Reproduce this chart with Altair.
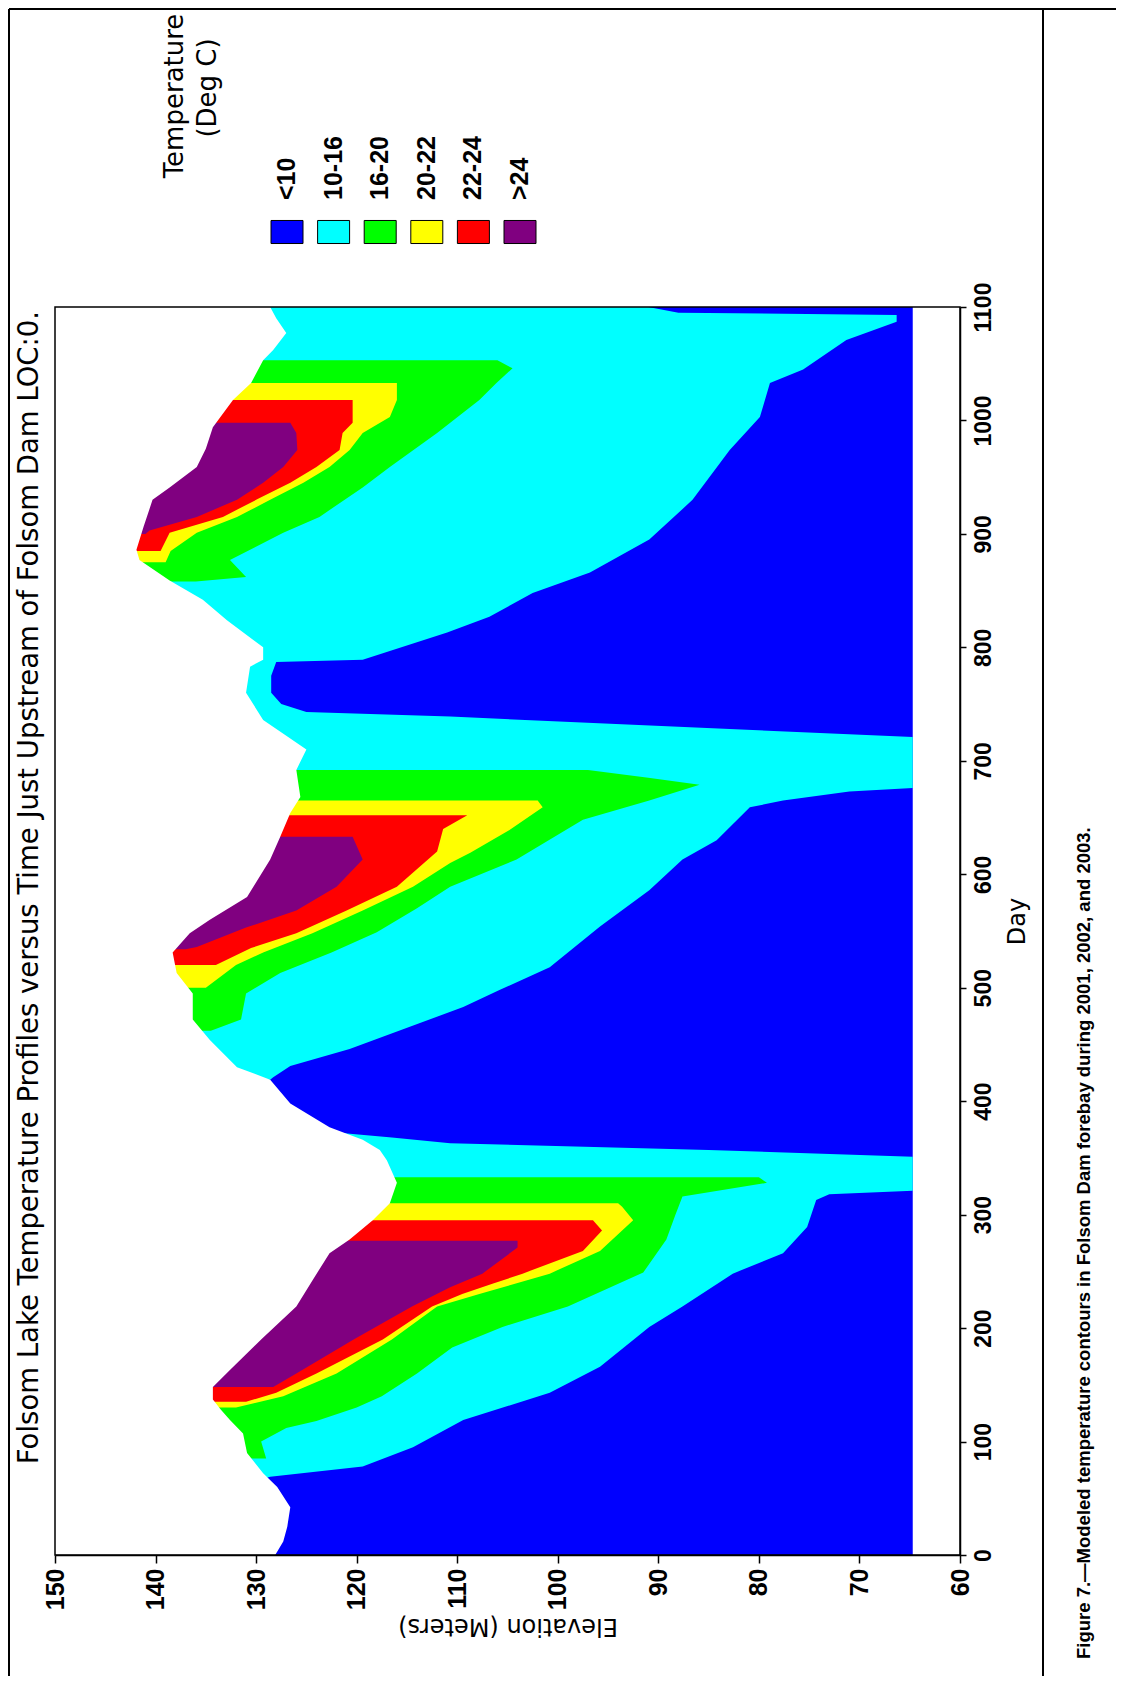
import altair as alt
import pandas as pd

BOTTOM = 64.7   # reservoir bottom elevation (m)
TOP = 150.0     # top of the elevation axis

# ---- water surface elevation (m) by day ----
surf_days = [0, 12, 25, 42, 60, 72, 90, 107, 119, 128, 137, 148, 163, 190, 219, 242, 266, 278, 295, 310,
             328, 348, 357, 366, 377, 398, 419, 430, 454, 472, 495, 513, 531, 548, 560, 580, 613, 633, 654, 668,
             692, 710, 722, 736, 760, 783, 789, 800, 824, 842, 859, 877, 886, 906, 930, 941, 959, 975, 994, 1018,
             1033, 1053, 1062, 1077, 1090, 1100]
surf_elev = [128.1, 127.3, 126.9, 126.6, 127.9, 129.3, 130.9, 131.3, 132.6, 133.5, 134.3, 134.3, 132.6, 129.5, 126.0, 124.4, 122.7, 120.7, 118.4, 116.7,
             116.0, 117.0, 117.7, 119.4, 122.7, 126.6, 128.6, 131.9, 134.6, 136.3, 136.3, 137.9, 138.3, 136.6, 134.6, 130.9, 128.6, 127.6, 126.6, 125.6,
             126.0, 125.0, 127.0, 129.3, 131.0, 130.6, 129.3, 129.3, 132.9, 135.3, 138.6, 141.6, 141.9, 141.2, 140.3, 138.6, 135.9, 135.0, 134.3, 132.3,
             130.5, 129.3, 128.3, 127.0, 128.0, 128.6]

# ---- lower edge of the 10-16 C water (top of the <10 C water) ----
cyan1_days = [67, 69, 78, 95, 119, 143, 166, 201, 219, 248, 266, 289, 313, 318, 321, 351, 357, 363, 368, 372]
cyan1_elev = [129.3, 128.6, 119.4, 114.4, 109.4, 100.8, 95.8, 90.9, 87.6, 82.6, 77.6, 75.2, 74.3, 73.0, 64.7, 64.7, 85.0, 110.7, 116.5, 121.5]
cyan2_days = [419, 421, 431, 446, 483, 498, 518, 554, 586, 613, 630, 659, 665, 673, 676, 721, 730, 739, 743, 750,
              760, 775, 787, 789, 813, 827, 848, 866, 895, 930, 974, 1003, 1033, 1045, 1071, 1087, 1093, 1095, 1100]
cyan2_elev = [128.6, 128.3, 126.6, 120.7, 109.4, 105.8, 100.8, 95.8, 90.9, 87.6, 84.2, 80.9, 77.6, 71.0, 64.7, 64.7, 88.0, 110.7, 125.0, 127.5,
              128.5, 128.5, 128.0, 119.4, 111.0, 106.8, 102.5, 96.8, 90.9, 86.6, 82.9, 79.9, 78.9, 75.6, 71.3, 66.3, 66.3, 88.0, 91.0]

# ---- lower edge of the 16-20 C water ----
green1_days = [85, 100, 112, 118, 130, 140, 160, 183, 201, 219, 249, 278, 300, 316, 328, 333]
green1_elev = [129.0, 129.5, 127.0, 124.0, 120.0, 117.5, 114.0, 110.5, 105.5, 99.0, 91.5, 89.2, 88.3, 87.6, 79.2, 80.0]
green2_days = [462, 472, 495, 513, 531, 549, 570, 589, 613, 648, 665, 679, 685, 692]
green2_elev = [134.5, 131.5, 131.0, 127.6, 122.5, 118.0, 114.0, 110.7, 104.1, 97.5, 90.9, 85.9, 91.0, 97.0]
green3_days = [858, 862, 877, 901, 915, 941, 959, 989, 1018, 1033, 1046, 1053]
green3_elev = [136.0, 131.0, 132.6, 127.3, 123.7, 119.4, 116.7, 112.0, 107.8, 106.1, 104.5, 106.0]

# ---- lower edge of the 20-22 C water ----
yellow1_days = [130, 140, 160, 190, 219, 230, 248, 268, 295, 307, 310]
yellow1_elev = [132.0, 127.3, 122.0, 116.5, 112.0, 107.8, 100.8, 95.8, 92.5, 93.6, 94.0]
yellow2_days = [500, 520, 531, 548, 568, 589, 610, 619, 639, 659, 665]
yellow2_elev = [135.0, 132.0, 129.3, 124.4, 119.4, 114.4, 110.7, 108.7, 104.8, 101.5, 102.0]
yellow3_days = [875, 885, 901, 915, 930, 945, 959, 974, 989, 1003, 1018, 1033]
yellow3_elev = [139.0, 138.5, 135.9, 131.9, 128.6, 125.3, 122.7, 120.7, 119.4, 116.7, 116.0, 116.0]

# ---- lower edge of the 22-24 C water ----
red1_days = [135, 143, 160, 190, 219, 230, 239, 248, 268, 286, 295]
red1_elev = [131.0, 128.0, 124.0, 117.4, 112.5, 109.5, 106.5, 103.5, 97.5, 95.6, 96.5]
red2_days = [520, 535, 548, 568, 589, 620, 640, 652]
red2_elev = [134.0, 130.5, 126.0, 121.0, 116.0, 112.0, 111.4, 109.0]
red3_days = [885, 901, 915, 930, 945, 959, 974, 989, 998, 1018]
red3_elev = [139.5, 138.6, 133.3, 130.0, 126.6, 124.0, 121.7, 121.4, 120.4, 120.4]

# ---- lower edge of the >24 C water ----
purple1_days = [148, 160, 190, 219, 236, 248, 271, 277]
purple1_elev = [128.3, 126.0, 120.3, 114.5, 110.7, 107.5, 104.0, 104.0]
purple2_days = [534, 536, 553, 568, 589, 613, 633]
purple2_elev = [137.0, 135.9, 131.0, 126.0, 122.0, 119.4, 120.4]
purple3_days = [900, 903, 915, 930, 945, 959, 974, 989, 998]
purple3_elev = [141.0, 140.6, 135.9, 131.9, 129.3, 127.3, 125.9, 126.0, 126.6]

legend_labels = ["<10", "10-16", "16-20", "20-22", "22-24", ">24"]
legend_colors = ["#0000ff", "#00ffff", "#00ff00", "#ffff00", "#ff0000", "#800080"]

elev_ticks = list(range(60, 151, 10))
day_ticks = list(range(0, 1101, 100))

TITLE = "Folsom Lake Temperature Profiles versus Time Just Upstream of Folsom Dam LOC:0."
CAPTION = "Figure 7.\u2014Modeled temperature contours in Folsom Dam forebay during 2001, 2002, and 2003."

W, H = 905, 1248
SANS = "DejaVu Sans"
NUMF = "Liberation Sans"
CAPF = "Liberation Sans"


def seg_frame(segments):
    frames = []
    for name, (days, elevs) in segments.items():
        assert len(days) == len(elevs), name
        frames.append(pd.DataFrame({"day": days, "lo": elevs, "hi": TOP, "seg": name}))
    return pd.concat(frames, ignore_index=True).sort_values(["seg", "day"])


xscale = alt.Scale(domain=[60, 150], reverse=True, nice=False, zero=False)
yscale = alt.Scale(domain=[0, 1100], nice=False, zero=False)
x_axis = alt.Axis(orient="bottom", values=elev_ticks, format="d", labelAngle=270, labelAlign="right",
                  labelBaseline="middle", labelPadding=5, tickSize=8, grid=False,
                  labelFont=NUMF, labelFontSize=25, labelFontWeight="bold",
                  title="Elevation (Meters)", titleAngle=180, titleBaseline="middle", titleY=70,
                  titleFont=SANS, titleFontSize=24, titleFontWeight="normal",
                  zindex=1)
y_axis = alt.Axis(orient="right", values=day_ticks, format="d", labelAngle=270, labelAlign="center",
                  labelBaseline="top", labelPadding=6, tickSize=6, grid=False,
                  labelFont=NUMF, labelFontSize=23, labelFontWeight="bold",
                  title="Day", titleAngle=270, titleBaseline="top", titleY=614,
                  titleFont=SANS, titleFontSize=24, titleFontWeight="normal", titlePadding=10,
                  zindex=1)


def area_layer(df, color):
    return alt.Chart(df).mark_area(orient="horizontal", color=color, opacity=1, strokeWidth=0).encode(
        x=alt.X("lo:Q", scale=xscale, axis=x_axis),
        x2="hi:Q",
        y=alt.Y("day:Q", scale=yscale, axis=y_axis),
        detail="seg:N",
    )


blue_df = seg_frame({"b": ([0, 1100], [BOTTOM, BOTTOM])})
cyan_df = seg_frame({"c1": (cyan1_days, cyan1_elev), "c2": (cyan2_days, cyan2_elev)})
green_df = seg_frame({"g1": (green1_days, green1_elev), "g2": (green2_days, green2_elev),
                      "g3": (green3_days, green3_elev)})
yellow_df = seg_frame({"y1": (yellow1_days, yellow1_elev), "y2": (yellow2_days, yellow2_elev),
                       "y3": (yellow3_days, yellow3_elev)})
red_df = seg_frame({"r1": (red1_days, red1_elev), "r2": (red2_days, red2_elev),
                    "r3": (red3_days, red3_elev)})
purple_df = seg_frame({"p1": (purple1_days, purple1_elev), "p2": (purple2_days, purple2_elev),
                       "p3": (purple3_days, purple3_elev)})
air_df = seg_frame({"s": (surf_days, surf_elev)})

main = alt.layer(
    area_layer(blue_df, legend_colors[0]),
    area_layer(cyan_df, legend_colors[1]),
    area_layer(green_df, legend_colors[2]),
    area_layer(yellow_df, legend_colors[3]),
    area_layer(red_df, legend_colors[4]),
    area_layer(purple_df, legend_colors[5]),
    area_layer(air_df, "#ffffff"),
)

one = pd.DataFrame({"k": [0]})
frame = alt.Chart(one).mark_rect(fillOpacity=0, stroke="black", strokeWidth=1.5).encode(
    x=alt.value(0), x2=alt.value(W), y=alt.value(0), y2=alt.value(H))
top_line = alt.Chart(one).mark_rule(stroke="black", strokeWidth=2).encode(
    x=alt.value(-46), x2=alt.value(1061), y=alt.value(-298))
left_line = alt.Chart(one).mark_rule(stroke="black", strokeWidth=2).encode(
    x=alt.value(-46), y=alt.value(-298), y2=alt.value(1369))
divider = alt.Chart(one).mark_rule(stroke="black", strokeWidth=2).encode(
    x=alt.value(988), y=alt.value(-298), y2=alt.value(1369))

title_txt = alt.Chart(one).mark_text(angle=270, align="right", baseline="middle", font=SANS,
                                     fontSize=27.5, color="black").encode(
    x=alt.value(-25), y=alt.value(4), text=alt.value(TITLE))
caption_txt = alt.Chart(one).mark_text(angle=270, align="left", baseline="middle", font=CAPF,
                                       fontSize=18.5, fontWeight="bold", color="black").encode(
    x=alt.value(1029), y=alt.value(1352), text=alt.value(CAPTION))
leg_t1 = alt.Chart(one).mark_text(angle=270, align="center", baseline="middle", font=SANS,
                                  fontSize=26, color="black").encode(
    x=alt.value(120), y=alt.value(-211), text=alt.value("Temperature"))
leg_t2 = alt.Chart(one).mark_text(angle=270, align="center", baseline="middle", font=SANS,
                                  fontSize=26, color="black").encode(
    x=alt.value(153), y=alt.value(-219), text=alt.value("(Deg C)"))

legend_df = pd.DataFrame({"cat": legend_labels, "col": legend_colors})
lx = alt.X("cat:N", scale=alt.Scale(type="point", domain=legend_labels, range=[232, 465], padding=0),
           axis=None)
RECT_PATH = "M-1,-0.72L1,-0.72L1,0.72L-1,0.72Z"
swatches = alt.Chart(legend_df).mark_point(shape=RECT_PATH, size=1024, filled=True, opacity=1,
                                           stroke="black", strokeWidth=1).encode(
    x=lx, y=alt.value(-75), fill=alt.Color("col:N", scale=None))
sw_labels = alt.Chart(legend_df).mark_text(angle=270, align="left", baseline="middle", font=NUMF,
                                           fontSize=25, fontWeight="bold", color="black").encode(
    x=lx, y=alt.value(-107), text="cat:N")
legend = alt.layer(swatches, sw_labels)

chart = alt.layer(main, frame, legend, title_txt, caption_txt, leg_t1, leg_t2,
                  top_line, left_line, divider).resolve_scale(
    x="independent"
).properties(
    width=W, height=H,
    autosize=alt.AutoSizeParams(type="none"),
    padding={"left": 47, "top": 299, "right": 156, "bottom": 121},
    background="white",
).configure_view(stroke=None).configure_axis(
    labelColor="black", titleColor="black", domainColor="black", tickColor="black",
    domainWidth=1.5, tickWidth=1.5,
)

chart.save("out.html", embed_options={"renderer": "svg", "actions": False})
